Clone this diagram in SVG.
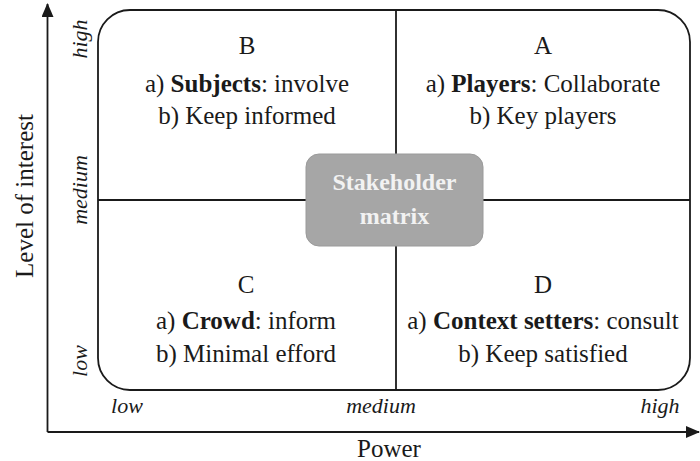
<svg xmlns="http://www.w3.org/2000/svg" width="700" height="461" viewBox="0 0 700 461">
<style>
.t{font-family:"Liberation Serif","Times New Roman",serif;font-size:25px;fill:#1a1a1a;text-anchor:middle}
.i{font-family:"Liberation Serif","Times New Roman",serif;font-size:22px;font-style:italic;fill:#1a1a1a;text-anchor:middle}
.b{font-weight:bold}
.ln{stroke:#1a1a1a;stroke-width:1.8;fill:none}
.w{fill:#f2f2f2;font-size:24px}
</style>
<defs>
<marker id="ah" markerWidth="14" markerHeight="12" refX="13" refY="6" orient="auto" markerUnits="userSpaceOnUse">
<path d="M0,0 L14,6 L0,12 Z" fill="#1a1a1a"/>
</marker>
</defs>
<rect width="700" height="461" fill="#fff"/>
<g id="axes">
<line class="ln" x1="47.5" y1="432" x2="47.5" y2="4" marker-end="url(#ah)"/>
<line class="ln" x1="47.5" y1="432" x2="699" y2="432" marker-end="url(#ah)"/>
<text class="t" transform="translate(33,196) rotate(-90)">Level of interest</text>
<text class="t" x="389" y="457">Power</text>
<text class="i" transform="translate(87,39) rotate(-90)">high</text>
<text class="i" transform="translate(87,190) rotate(-90)">medium</text>
<text class="i" transform="translate(87,361) rotate(-90)">low</text>
<text class="i" x="127" y="413">low</text>
<text class="i" x="381" y="413">medium</text>
<text class="i" x="660" y="413">high</text>
</g>
<g id="matrix">
<rect class="ln" x="98" y="10" width="592" height="380" rx="32" ry="32"/>
<line class="ln" x1="396" y1="10" x2="396" y2="390"/>
<line class="ln" x1="98" y1="200" x2="690" y2="200"/>
</g>
<g id="center">
<rect x="306" y="154" width="177" height="92" rx="13" ry="13" fill="#a6a6a6" stroke="#9a9a9a" stroke-width="1"/>
<text class="t b w" x="394.5" y="190">Stakeholder</text>
<text class="t b w" x="394.5" y="224">matrix</text>
</g>
<g id="quadB">
<text class="t" x="247" y="54">B</text>
<text class="t" x="247" y="92">a) <tspan class="b">Subjects</tspan>: involve</text>
<text class="t" x="247" y="124">b) Keep informed</text>
</g>
<g id="quadA">
<text class="t" x="543" y="54">A</text>
<text class="t" x="543" y="92">a) <tspan class="b">Players</tspan>: Collaborate</text>
<text class="t" x="543" y="124">b) Key players</text>
</g>
<g id="quadC">
<text class="t" x="246" y="293">C</text>
<text class="t" x="246" y="329">a) <tspan class="b">Crowd</tspan>: inform</text>
<text class="t" x="246" y="362">b) Minimal efford</text>
</g>
<g id="quadD">
<text class="t" x="543" y="293">D</text>
<text class="t" x="543" y="329">a) <tspan class="b">Context setters</tspan>: consult</text>
<text class="t" x="543" y="362">b) Keep satisfied</text>
</g>
</svg>
